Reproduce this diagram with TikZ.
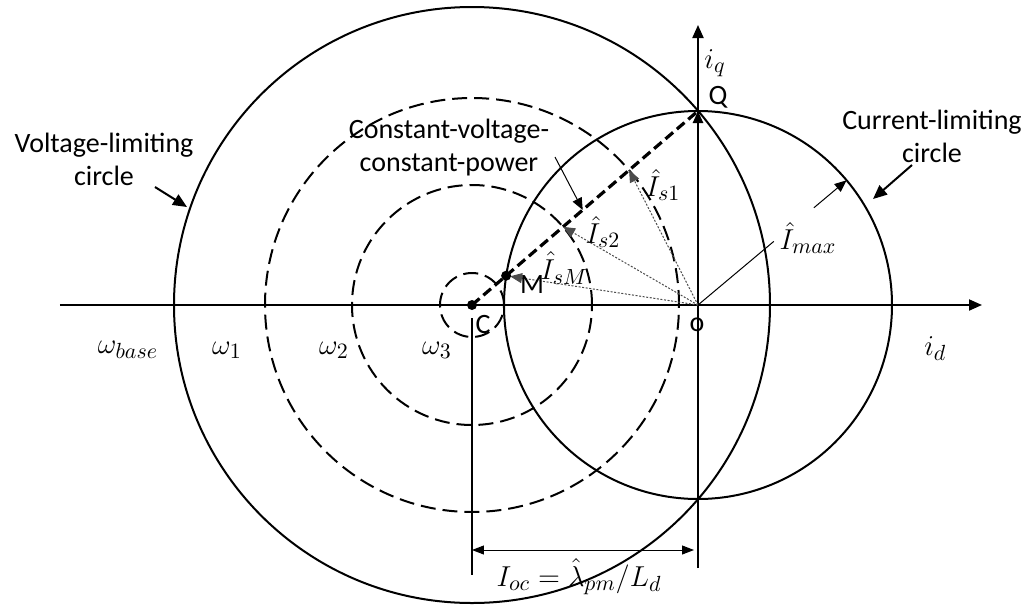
\documentclass[tikz,border=0pt]{standalone}
\usepackage{fontspec}
\setmainfont{Carlito}
\usetikzlibrary{arrows.meta,calc}
\begin{document}
\begin{tikzpicture}[x=0.5pt,y=0.5pt,font=\fontsize{14}{16.5}\selectfont,
  mlab/.style={font=\fontsize{15}{18}\selectfont},
  tip/.style={-{Triangle[length=6pt,width=5pt]}},
  vec/.style={tip,gray!60!black,line width=0.5pt,dash pattern=on 1pt off 0.8pt},
  wcirc/.style={line width=1pt,dash pattern=on 7.5pt off 3.5pt}]
  % Kreise: Spannungsgrenze um C, Stromgrenze um O
  \useasboundingbox (-698,-307) rectangle (335,305);
  \coordinate (O) at (0,0);
  \coordinate (C) at (-226,0);
  \coordinate (Q) at (0,194);
  \coordinate (P1) at ($(C)!0.695!(Q)$);
  \coordinate (P2) at ($(C)!0.403!(Q)$);
  \coordinate (M) at ($(C)!0.151!(Q)$);
  \coordinate (Imax) at (40:194);
  \draw[line width=1pt,-{Triangle[length=6.5pt,width=5.5pt]}] (-638,0) -- (284,0) node[pos=1,below left,mlab,xshift=-14pt,yshift=-12pt] (id) {$i_d$};
  \draw[line width=1pt,-{Triangle[length=6.5pt,width=5.5pt]}] (0,-263) -- (0,280);
  \node[mlab] (iq) at (17,242) {$i_q$};
  \draw[line width=1pt] (C) circle[radius=298];
  \draw[line width=1pt] (O) circle[radius=194];
  \foreach \r in {207,120,32} \draw[wcirc] (C) circle[radius=\r];
  \draw[line width=1.6pt,dash pattern=on 5pt off 2.5pt] (C) -- (Q);
  \draw[line width=1.2pt,tip] (O) -- (Q);
  \draw[vec] (O) -- (P1);
  \draw[vec] (O) -- (P2);
  \draw[vec,shorten >=2pt] (O) -- (M);
  \fill (C) circle (2.5pt);
  \fill (M) circle (2.5pt);
  \draw[line width=0.5pt] (O) -- ($(O)!0.51!(Imax)$);
  \draw[line width=0.5pt,tip] ($(O)!0.78!(Imax)$) -- (Imax);
  % Bemassung I_oc
  \draw[line width=0.7pt] (-226,-13) -- (-226,-270);
  \draw[line width=0.5pt,{Triangle[length=6pt,width=4.5pt]}-{Triangle[length=6pt,width=4.5pt]}] (-226,-245) -- (-4,-245);
  \node[mlab] (ioc) at (-119,-272) {$I_{oc}=\hat{\lambda}_{pm}/L_d$};
  % Beschriftungen
  \node (Ql) at (20,208) {Q};
  \node (ol) at (-1,-20) {o};
  \node (Cl) at (-215,-20) {C};
  \node (Ml) at (-166,20) {M};
  \foreach \x/\w in {-570/base,-471/1,-364/2,-261/3} \node[mlab] at (\x,-45) {$\omega_{\w}$};
  \node[mlab] (Is1) at (-35,120) {$\hat{I}_{s1}$};
  \node[mlab] (Is2) at (-95,73) {$\hat{I}_{s2}$};
  \node[mlab] (IsM) at (-134,37) {$\hat{I}_{sM}$};
  \node[mlab] (Imaxl) at (110,67) {$\hat{I}_{max}$};
  \node[align=center] (vlc) at (-594,146) {Voltage-limiting\\circle};
  \node[align=center] (clc) at (234,169) {Current-limiting\\circle};
  \node[align=center] (cvcp) at (-249,157) {Constant-voltage-\\constant-power};
  \coordinate (va) at (-543,118);
  \coordinate (vb) at (-511,98);
  \coordinate (ca) at (214,140);
  \coordinate (cb) at (175,106);
  \coordinate (ka) at (-143,148);
  \draw[line width=1pt,-{Triangle[length=7pt,width=6pt]}] (va) -- (vb);
  \draw[line width=1pt,-{Triangle[length=7pt,width=6pt]}] (ca) -- (cb);
  \draw[line width=0.5pt,tip] (ka) -- ($(C)!0.49!(Q)$);
\end{tikzpicture}
\end{document}
